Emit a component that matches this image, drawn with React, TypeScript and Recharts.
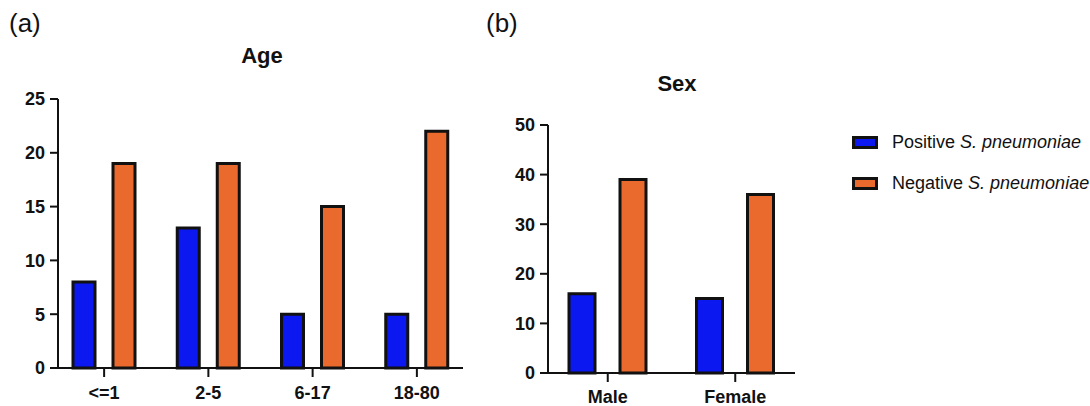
import { BarChart, Bar, XAxis, YAxis } from 'recharts';

const ageGroups = ['<=1', '2-5', '6-17', '18-80'];
const agePositive = [8, 13, 5, 5];
const ageNegative = [19, 19, 15, 22];
const ageTicks = [0, 5, 10, 15, 20, 25];

const sexGroups = ['Male', 'Female'];
const sexPositive = [16, 15];
const sexNegative = [39, 36];
const sexTicks = [0, 10, 20, 30, 40, 50];

const BLUE = '#0b19f0';
const ORANGE = '#ea6a2e';
const FONT = '"Liberation Sans", Arial, Helvetica, sans-serif';

const series = [
  { key: 'positive', label: 'Positive', color: BLUE },
  { key: 'negative', label: 'Negative', color: ORANGE },
];

const ageData = ageGroups.map((name, i) => ({
  name,
  positive: agePositive[i],
  negative: ageNegative[i],
}));

const sexData = sexGroups.map((name, i) => ({
  name,
  positive: sexPositive[i],
  negative: sexNegative[i],
}));

const tickStyle = { fill: '#111', fontSize: 18, fontWeight: 700, fontFamily: FONT };
const axisLine = { stroke: '#111', strokeWidth: 2 };

export default function App() {
  return (
    <div
      style={{
        position: 'absolute',
        left: 0,
        top: 0,
        width: 1090,
        height: 406,
        background: '#fff',
        fontFamily: FONT,
        color: '#111',
      }}
    >
      <div style={{ position: 'absolute', left: 9, top: 8, fontSize: 26 }}>(a)</div>
      <div style={{ position: 'absolute', left: 486, top: 8, fontSize: 26 }}>(b)</div>
      <div
        style={{
          position: 'absolute',
          left: 212,
          width: 100,
          top: 43,
          textAlign: 'center',
          fontSize: 22,
          fontWeight: 700,
        }}
      >
        Age
      </div>
      <div
        style={{
          position: 'absolute',
          left: 627,
          width: 100,
          top: 71,
          textAlign: 'center',
          fontSize: 22,
          fontWeight: 700,
        }}
      >
        Sex
      </div>

      <div style={{ position: 'absolute', left: 0, top: 0 }}>
        <BarChart
          width={480}
          height={406}
          data={ageData}
          margin={{ top: 99, right: 17, bottom: 8, left: 0 }}
          barSize={22}
          barGap={18}
        >
          <XAxis
            dataKey="name"
            tick={tickStyle}
            tickSize={9}
            tickMargin={9}
            axisLine={axisLine}
            tickLine={axisLine}
            padding={{ left: -6, right: -6 }}
          />
          <YAxis
            width={58}
            domain={[0, 25]}
            ticks={ageTicks}
            tick={tickStyle}
            tickSize={8}
            tickMargin={5}
            axisLine={axisLine}
            tickLine={axisLine}
          />
          {series.map((s) => (
            <Bar
              key={s.key}
              dataKey={s.key}
              fill={s.color}
              stroke="#111"
              strokeWidth={3}
              isAnimationActive={false}
            />
          ))}
        </BarChart>
      </div>

      <div style={{ position: 'absolute', left: 490, top: 0 }}>
        <BarChart
          width={320}
          height={406}
          data={sexData}
          margin={{ top: 125, right: 15, bottom: 3, left: 0 }}
          barSize={26}
          barGap={25}
        >
          <XAxis
            dataKey="name"
            tick={tickStyle}
            tickSize={9}
            tickMargin={8}
            axisLine={axisLine}
            tickLine={axisLine}
            padding={{ left: -4, right: -4 }}
          />
          <YAxis
            width={58}
            domain={[0, 50]}
            ticks={sexTicks}
            tick={tickStyle}
            tickSize={8}
            tickMargin={5}
            axisLine={axisLine}
            tickLine={axisLine}
          />
          {series.map((s) => (
            <Bar
              key={s.key}
              dataKey={s.key}
              fill={s.color}
              stroke="#111"
              strokeWidth={3}
              isAnimationActive={false}
            />
          ))}
        </BarChart>
      </div>

      {series.map((s, i) => (
        <div
          key={s.key}
          style={{
            position: 'absolute',
            left: 852,
            top: 131 + i * 41,
            height: 22,
            display: 'flex',
            alignItems: 'center',
            fontSize: 18,
            whiteSpace: 'nowrap',
          }}
        >
          <span
            style={{
              display: 'inline-block',
              width: 20,
              height: 7,
              background: s.color,
              border: '3px solid #111',
              marginRight: 14,
            }}
          />
          <span>
            {s.label} <i>S. pneumoniae</i>
          </span>
        </div>
      ))}
    </div>
  );
}
